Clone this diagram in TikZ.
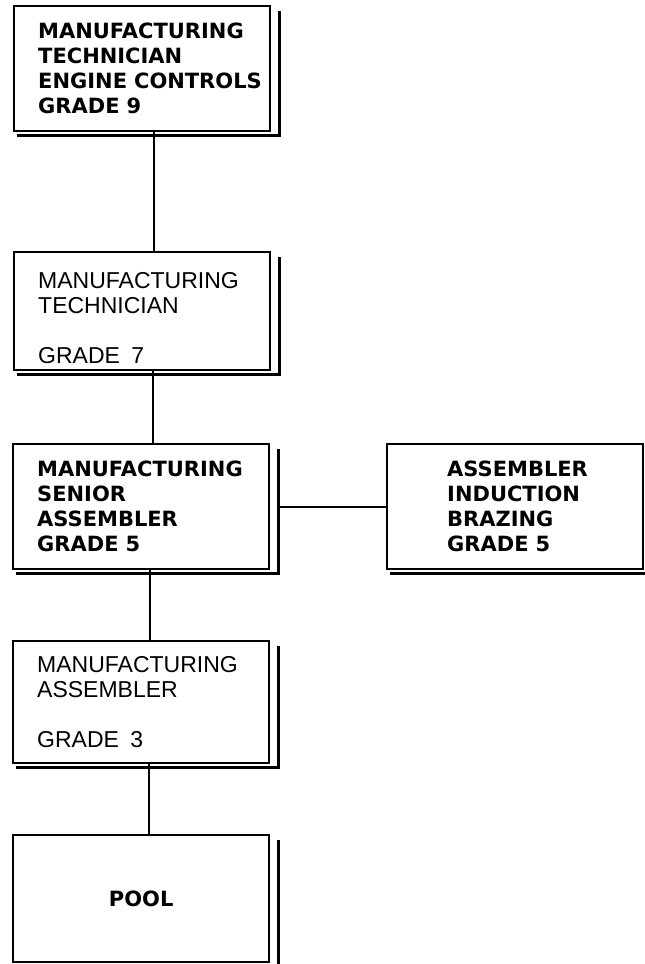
\documentclass[tikz,border=0pt]{standalone}
\usepackage{fontspec}
\setmainfont{Liberation Sans}
\newfontfamily\boldsans{DejaVu Sans}
\usetikzlibrary{positioning}
\hyphenpenalty=10000

\begin{document}
\begin{tikzpicture}[x=1pt, y=-1pt,
  post/.style={draw, line width=2.4pt, fill=white, anchor=north west, align=left,
    minimum height=125pt, inner xsep=24pt, text width=208pt,
    font=\fontsize{23}{25}\selectfont},
  heavy/.style={post, font=\boldsans\bfseries\fontsize{21}{25}\selectfont},
  link/.style={line width=2pt},
  shade/.style={line width=2.4pt}]
  \useasboundingbox (0,0) rectangle (645,964);

  % career ladder
  \node[heavy] (tech9) at (13,5) {MANUFACTURING\\TECHNICIAN\\ENGINE~CONTROLS\\GRADE 9};
  \node[post, minimum height=118pt] (tech7) at (13,251) {\rule{0pt}{30pt}MANUFACTURING\\TECHNICIAN\\[25pt]GRADE\enspace 7};
  \node[heavy] (senior5) at (12,443) {MANUFACTURING\\SENIOR\\ASSEMBLER\\GRADE 5};
  \node[heavy, inner xsep=60pt, text width=136pt] (brazing5) at (386,443) {ASSEMBLER\\INDUCTION\\BRAZING\\GRADE 5};
  \node[post, minimum height=122pt] (assem3) at (12,640) {MANUFACTURING\\ASSEMBLER\\[25pt]GRADE\enspace 3};
  \node[heavy, minimum height=127pt, align=center] (pool) at (12,834) {POOL};

  % shadow edges
  \foreach \b in {tech9,tech7,senior5,brazing5,assem3,pool}
    \draw[shade] ([xshift=8pt,yshift=-6pt]\b.north east) -- ([xshift=8pt,yshift=-3pt]\b.south east)
      -- ([xshift=4pt,yshift=-3pt]\b.south west);

  % links
  \draw[link] ([xshift=12pt]tech9.south) -- ([xshift=12pt]tech9.south |- tech7.north);
  \draw[link] ([xshift=11pt]tech7.south) -- ([xshift=11pt]tech7.south |- senior5.north);
  \draw[link] ([xshift=9pt]senior5.south) -- ([xshift=9pt]senior5.south |- assem3.north);
  \draw[link] ([xshift=8pt]assem3.south) -- ([xshift=8pt]assem3.south |- pool.north);
  \draw[link] ([xshift=8pt]senior5.east) -- (brazing5.west);
\end{tikzpicture}
\end{document}
